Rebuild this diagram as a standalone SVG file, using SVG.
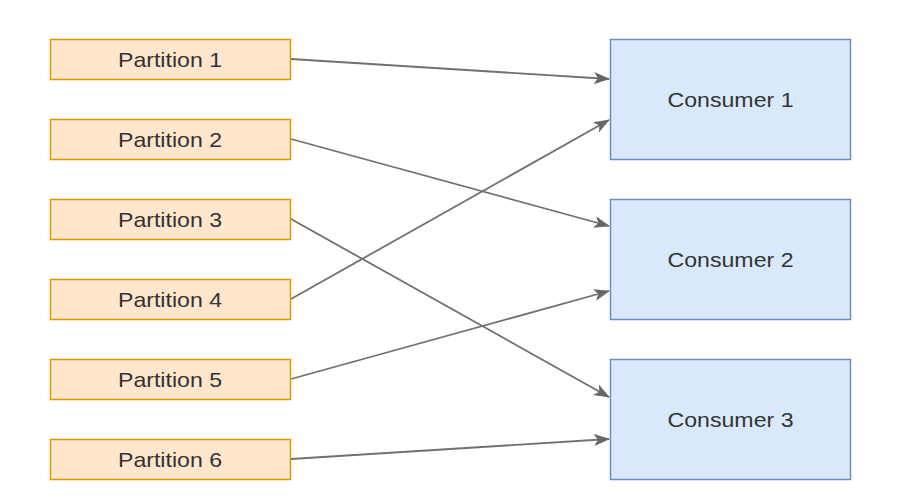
<svg xmlns="http://www.w3.org/2000/svg" width="918" height="500" viewBox="0 0 918 500">
<defs>
<style>
.p rect{fill:#ffe6cc;stroke:#d79b00;stroke-width:1.5}
.c rect{fill:#dae8fc;stroke:#6c8ebf;stroke-width:1.5}
text{font-family:"Liberation Sans",Arial,sans-serif;font-size:21px;fill:#333;text-anchor:middle}
#edges line{stroke:#707070;stroke-width:1.8;marker-end:url(#ah)}
</style>
<marker id="ah" viewBox="0 0 16 12" refX="15" refY="6" markerWidth="16" markerHeight="12" markerUnits="userSpaceOnUse" orient="auto">
<path d="M0,0 L16,6 L0,12 L4,6 Z" fill="#666"/>
</marker>
</defs>
<rect width="918" height="500" fill="#fff"/>
<g id="edges">
<line x1="291" y1="59" x2="609" y2="79"/>
<line x1="291" y1="139" x2="609" y2="226"/>
<line x1="291" y1="219" x2="609" y2="397"/>
<line x1="291" y1="299" x2="609" y2="120"/>
<line x1="291" y1="379" x2="609" y2="291"/>
<line x1="291" y1="459" x2="609" y2="439"/>
</g>
<g id="p1" class="p"><rect x="50.5" y="39.5" width="240" height="40"/><text x="170" y="67" textLength="104" lengthAdjust="spacingAndGlyphs">Partition 1</text></g>
<g id="p2" class="p"><rect x="50.5" y="119.5" width="240" height="40"/><text x="170" y="147" textLength="104" lengthAdjust="spacingAndGlyphs">Partition 2</text></g>
<g id="p3" class="p"><rect x="50.5" y="199.5" width="240" height="40"/><text x="170" y="227" textLength="104" lengthAdjust="spacingAndGlyphs">Partition 3</text></g>
<g id="p4" class="p"><rect x="50.5" y="279.5" width="240" height="40"/><text x="170" y="307" textLength="104" lengthAdjust="spacingAndGlyphs">Partition 4</text></g>
<g id="p5" class="p"><rect x="50.5" y="359.5" width="240" height="40"/><text x="170" y="387" textLength="104" lengthAdjust="spacingAndGlyphs">Partition 5</text></g>
<g id="p6" class="p"><rect x="50.5" y="439.5" width="240" height="40"/><text x="170" y="467" textLength="104" lengthAdjust="spacingAndGlyphs">Partition 6</text></g>
<g id="c1" class="c"><rect x="610.5" y="39.5" width="240" height="120"/><text x="730.5" y="107" textLength="126" lengthAdjust="spacingAndGlyphs">Consumer 1</text></g>
<g id="c2" class="c"><rect x="610.5" y="199.5" width="240" height="120"/><text x="730.5" y="267" textLength="126" lengthAdjust="spacingAndGlyphs">Consumer 2</text></g>
<g id="c3" class="c"><rect x="610.5" y="359.5" width="240" height="120"/><text x="730.5" y="427" textLength="126" lengthAdjust="spacingAndGlyphs">Consumer 3</text></g>
</svg>
